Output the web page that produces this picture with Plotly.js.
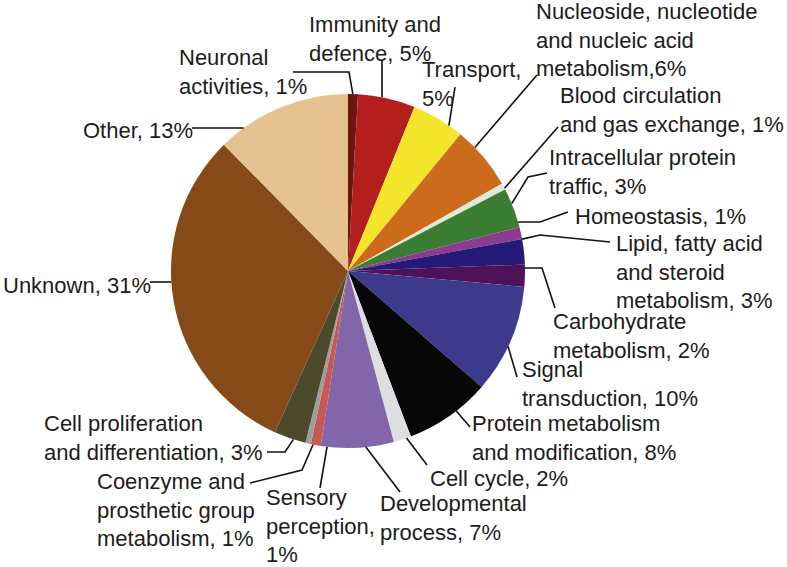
<!DOCTYPE html>
<html>
<head>
<meta charset="utf-8">
<script src="https://cdn.plot.ly/plotly-3.0.1.min.js"></script>
<style>
  html, body { margin: 0; padding: 0; background: #fff; }
  #chart { width: 787px; height: 567px; }
</style>
</head>
<body>
<div id="chart"></div>
<script>
// categories, clockwise from 12 o'clock
const categories = [
  'Neuronal activities', 'Immunity and defence', 'Transport',
  'Nucleoside, nucleotide and nucleic acid metabolism', 'Blood circulation and gas exchange',
  'Intracellular protein traffic', 'Homeostasis', 'Lipid, fatty acid and steroid metabolism',
  'Carbohydrate metabolism', 'Signal transduction', 'Protein metabolism and modification',
  'Cell cycle', 'Developmental process', 'Sensory perception',
  'Coenzyme and prosthetic group metabolism', 'Cell proliferation and differentiation',
  'Unknown', 'Other'
];
// share of the pie
const shares = [0.9, 5.2, 4.8, 5.8, 0.6, 3.6, 1.1, 2.3, 2.0, 9.9, 7.8, 1.6, 6.6, 0.9, 0.5, 2.9, 30.7, 12.3];
// printed percentages
const pcts = [1, 5, 5, 6, 1, 3, 1, 3, 2, 10, 8, 2, 7, 1, 1, 3, 31, 13];
const colors = [
  '#6b1515', '#b41f1e', '#f2e52a', '#cd6b1d', '#dfe9d8', '#3b7d32', '#8b3c8e', '#261a78',
  '#4d1257', '#3d3a8e', '#070707', '#dedee2', '#8366a9', '#c65a52', '#9e9e9e', '#4b4a2b',
  '#864a19', '#e5c28f'
];
// label wording as printed (wrapped)
const labelText = [
  'Neuronal<br>activities, 1%', 'Immunity and<br>defence, 5%', 'Transport,<br>5%',
  'Nucleoside, nucleotide<br>and nucleic acid<br>metabolism,6%', 'Blood circulation<br>and gas exchange, 1%',
  'Intracellular protein<br>traffic, 3%', 'Homeostasis, 1%', 'Lipid, fatty acid<br>and steroid<br>metabolism, 3%',
  'Carbohydrate<br>metabolism, 2%', 'Signal<br>transduction, 10%', 'Protein metabolism<br>and modification, 8%',
  'Cell cycle, 2%', 'Developmental<br>process, 7%', 'Sensory<br>perception,<br>1%',
  'Coenzyme and<br>prosthetic group<br>metabolism, 1%', 'Cell proliferation<br>and differentiation, 3%',
  'Unknown, 31%', 'Other, 13%'
];

// page geometry (pixels)
const W = 787, H = 567;
const cx = 348, cy = 271, R = 177;

// label placement: left x, vertical centre of the text block
const labelPos = [
  [178, 72], [308, 39], [421, 84], [535, 40], [559, 110], [548, 172], [574, 216], [615, 272],
  [552, 336], [521, 384], [471, 438], [429, 478], [379, 518], [265, 526], [96, 510], [43, 438],
  [2, 285], [82, 130]
];
// leader lines, label side first; the last segment is snapped onto the pie edge
const leaders = [
  [[293, 72], [349, 72], [353, 95]],
  [[382, 60], [382, 98]],
  [[455, 87], [449, 125]],
  [[537, 75], [477, 145]],
  [[558, 127], [510, 182]],
  [[547, 173], [528, 177], [517, 195]],
  [[568, 212], [540, 222], [522, 222]],
  [[610, 242], [540, 235], [527, 238]],
  [[555, 308], [542, 268], [534, 268]],
  [[517, 377], [510, 353]],
  [[470, 427], [458, 413]],
  [[427, 465], [408, 440]],
  [[400, 492], [365, 446]],
  [[320, 488], [327, 447]],
  [[250, 483], [302, 470], [312, 447]],
  [[267, 452], [285, 452], [293, 440]],
  [[150, 282], [167, 282]],
  [[192, 128], [242, 128]]
];

// extend/trim the last segment so it ends on the circle
function snapToEdge(a, b) {
  let dx = b[0] - a[0], dy = b[1] - a[1];
  const len = Math.hypot(dx, dy);
  dx /= len; dy /= len;
  const fx = a[0] - cx, fy = a[1] - cy;
  const B = fx * dx + fy * dy;
  const Cc = fx * fx + fy * fy - R * R;
  const disc = B * B - Cc;
  if (disc < 0) return b;
  const t = -B - Math.sqrt(disc);
  if (t <= 0) return b;
  return [a[0] + t * dx, a[1] + t * dy];
}

const px = x => x / W;
const py = y => 1 - y / H;

const shapes = leaders.map(pts => {
  const p = pts.slice();
  p[p.length - 1] = snapToEdge(p[p.length - 2], p[p.length - 1]);
  const path = p.map((q, i) => (i ? 'L' : 'M') + px(q[0]).toFixed(5) + ',' + py(q[1]).toFixed(5)).join(' ');
  return { type: 'path', xref: 'paper', yref: 'paper', path: path, line: { color: '#111', width: 1.6 } };
});

const annotations = labelText.map((t, i) => ({
  xref: 'paper', yref: 'paper',
  x: px(labelPos[i][0]), y: py(labelPos[i][1]),
  xanchor: 'left', yanchor: 'middle', align: 'left',
  text: t, showarrow: false, borderpad: 0,
  font: { family: 'Liberation Sans, Arial, sans-serif', size: 22, color: '#1c1c1c' }
}));

const trace = {
  type: 'pie',
  labels: categories,
  values: shares,
  customdata: pcts,
  sort: false,
  direction: 'clockwise',
  rotation: 0,
  textinfo: 'none',
  hovertemplate: '%{label}, %{customdata}%<extra></extra>',
  marker: { colors: colors, line: { width: 0 } },
  domain: { x: [(cx - R) / W, (cx + R) / W], y: [(H - cy - R) / H, (H - cy + R) / H] }
};

const layout = {
  width: W, height: H,
  margin: { l: 0, r: 0, t: 0, b: 0 },
  paper_bgcolor: '#fff',
  showlegend: false,
  shapes: shapes,
  annotations: annotations
};

Plotly.newPlot('chart', [trace], layout, { displayModeBar: false, staticPlot: true });
</script>
</body>
</html>
